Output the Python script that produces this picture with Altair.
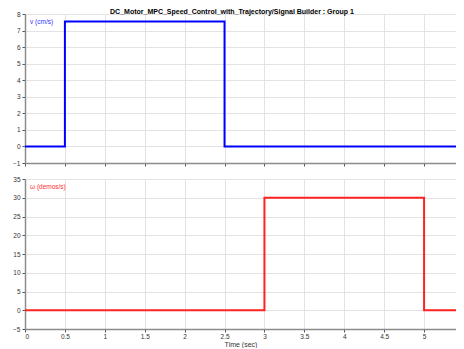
import altair as alt
import pandas as pd

# data
t_v = [0, 0.5, 2.5, 6]
v_vals = [0, 7.55, 0, 0]
t_w = [0, 3, 5, 6]
w_vals = [0, 30, 0, 0]

x_ticks = [0, 0.5, 1, 1.5, 2, 2.5, 3, 3.5, 4, 4.5, 5, 5.5]
v_ticks = list(range(-1, 9))
w_ticks = list(range(-5, 40, 5))

FONT = "Liberation Sans"
W = 431

df_v = pd.DataFrame({"t": t_v, "val": v_vals})
df_w = pd.DataFrame({"t": t_w, "val": w_vals})

def xaxis(labels, title=None):
    kw = dict(values=x_ticks, labels=labels, grid=True, labelFontSize=6.5,
              labelPadding=1, tickSize=3, labelFont=FONT, titleFont=FONT,
              titleFontSize=7, titleFontWeight="normal", titlePadding=1,
              format="~g")
    kw["title"] = title if title else None
    return alt.Axis(**kw)

def yaxis(vals):
    return alt.Axis(values=vals, title=None, grid=True, labelFontSize=6.5,
                    labelFont=FONT, tickSize=3, labelPadding=2,
                    minExtent=17, maxExtent=17)

top_line = alt.Chart(df_v).mark_line(color="#0000ff", strokeWidth=2,
                                     interpolate="step-after", clip=True).encode(
    x=alt.X("t:Q", scale=alt.Scale(domain=[0, 5.4], nice=False), axis=xaxis(False)),
    y=alt.Y("val:Q", scale=alt.Scale(domain=[-1, 8], nice=False), axis=yaxis(v_ticks)),
)
top_text = alt.Chart(pd.DataFrame({"label": ["v (cm/s)"]})).mark_text(
    align="left", baseline="middle", fontSize=6.5, font=FONT, color="#3333ff"
).encode(x=alt.value(5), y=alt.value(8), text="label:N")
top = alt.layer(top_line, top_text).properties(width=W, height=149)

bot_line = alt.Chart(df_w).mark_line(color="#ff2222", strokeWidth=2,
                                     interpolate="step-after", clip=True).encode(
    x=alt.X("t:Q", scale=alt.Scale(domain=[0, 5.4], nice=False), axis=xaxis(True, "Time (sec)")),
    y=alt.Y("val:Q", scale=alt.Scale(domain=[-5, 35], nice=False), axis=yaxis(w_ticks)),
)
bot_text = alt.Chart(pd.DataFrame({"label": ["ω (demos/s)"]})).mark_text(
    align="left", baseline="middle", fontSize=6.5, font=FONT, color="#ff3333"
).encode(x=alt.value(5), y=alt.value(8), text="label:N")
bot = alt.layer(bot_line, bot_text).properties(width=W, height=150)

chart = alt.vconcat(top, bot, spacing=9).properties(
    title=alt.TitleParams(
        "DC_Motor_MPC_Speed_Control_with_Trajectory/Signal Builder : Group 1",
        fontSize=7, fontWeight="bold", font=FONT, anchor="middle", offset=-4,
        color="#000000"),
    padding=0,
).configure_view(stroke=None).configure_axis(
    domainColor="#8c8c8c", domainWidth=1.5, gridColor="#e3e3e3",
    tickColor="#555555", labelColor="#333333", titleColor="#333333",
)

chart.save("out.html", embed_options={"renderer": "svg", "actions": False})
